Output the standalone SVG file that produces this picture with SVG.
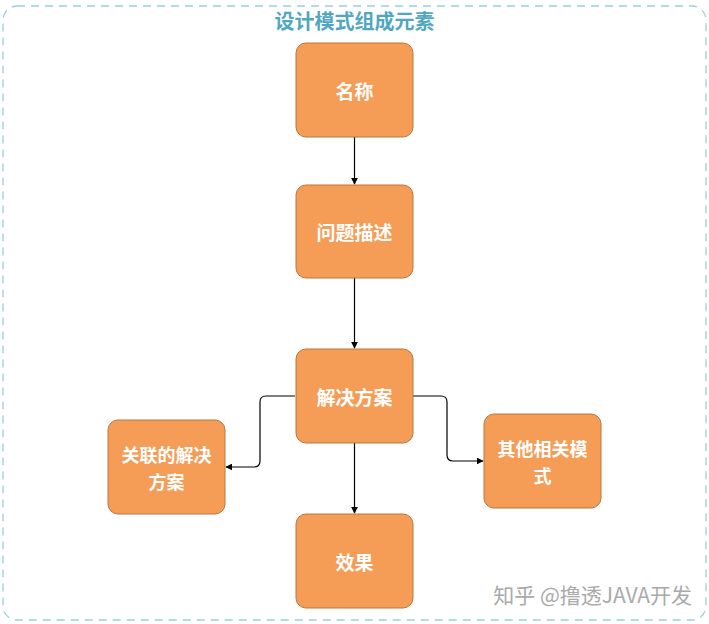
<svg xmlns="http://www.w3.org/2000/svg" width="709" height="624" viewBox="0 0 709 624">
<defs>
<marker id="arr" viewBox="0 0 10 10" refX="9" refY="5" markerWidth="7" markerHeight="7" orient="auto" markerUnits="userSpaceOnUse">
<path d="M0,0 L10,5 L0,10 z" fill="#000"/>
</marker>
<style>
.box{fill:#F59D56;stroke:#B9763F;stroke-width:1}
.lbl{font-family:"Noto Sans CJK SC","Liberation Sans",sans-serif;font-weight:bold;font-size:19px;fill:#ffffff;text-anchor:middle;dominant-baseline:central}
.lbl2{font-size:18px}
.con{fill:none;stroke:#000;stroke-width:1.2;marker-end:url(#arr)}
</style>
</defs>
<rect width="709" height="624" fill="#ffffff"/>
<rect x="3" y="6" width="703" height="614" rx="14" ry="14" fill="none" stroke="#9CCFD8" stroke-width="1.3" stroke-dasharray="8,6"/>
<text x="354.5" y="20" font-family="Noto Sans CJK SC,Liberation Sans,sans-serif" font-weight="bold" font-size="20" fill="#4FA7C0" text-anchor="middle" dominant-baseline="central">设计模式组成元素</text>
<g id="connectors">
<path class="con" d="M354.5,137 L354.5,184"/>
<path class="con" d="M354.5,278 L354.5,348"/>
<path class="con" d="M354.5,443 L354.5,513"/>
<path class="con" d="M295,396 L266,396 Q260,396 260,402 L260,461 Q260,467 254,467 L226,467"/>
<path class="con" d="M413,396 L441,396 Q447,396 447,402 L447,455 Q447,461 453,461 L483,461"/>
</g>
<g id="n1"><rect class="box" x="296" y="43" width="117" height="94" rx="10"/><text class="lbl" x="354.5" y="90">名称</text></g>
<g id="n2"><rect class="box" x="296" y="185" width="117" height="93" rx="10"/><text class="lbl" x="354.5" y="231.5">问题描述</text></g>
<g id="n3"><rect class="box" x="296" y="349" width="117" height="94" rx="10"/><text class="lbl" x="354.5" y="396">解决方案</text></g>
<g id="n4"><rect class="box" x="296" y="514" width="117" height="94" rx="10"/><text class="lbl" x="354.5" y="561">效果</text></g>
<g id="n5"><rect class="box" x="108" y="420" width="117" height="94" rx="10"/><text class="lbl lbl2"><tspan x="166.5" y="454">关联的解决</tspan><tspan x="166.5" y="480.5">方案</tspan></text></g>
<g id="n6"><rect class="box" x="484" y="414" width="117" height="94" rx="10"/><text class="lbl lbl2"><tspan x="542.5" y="448">其他相关模</tspan><tspan x="542.5" y="474.5">式</tspan></text></g>
<text x="692" y="603" font-family="Noto Sans CJK SC,Liberation Sans,sans-serif" font-size="21" fill="#AAAAAA" text-anchor="end">知乎 @撸透JAVA开发</text>
</svg>
